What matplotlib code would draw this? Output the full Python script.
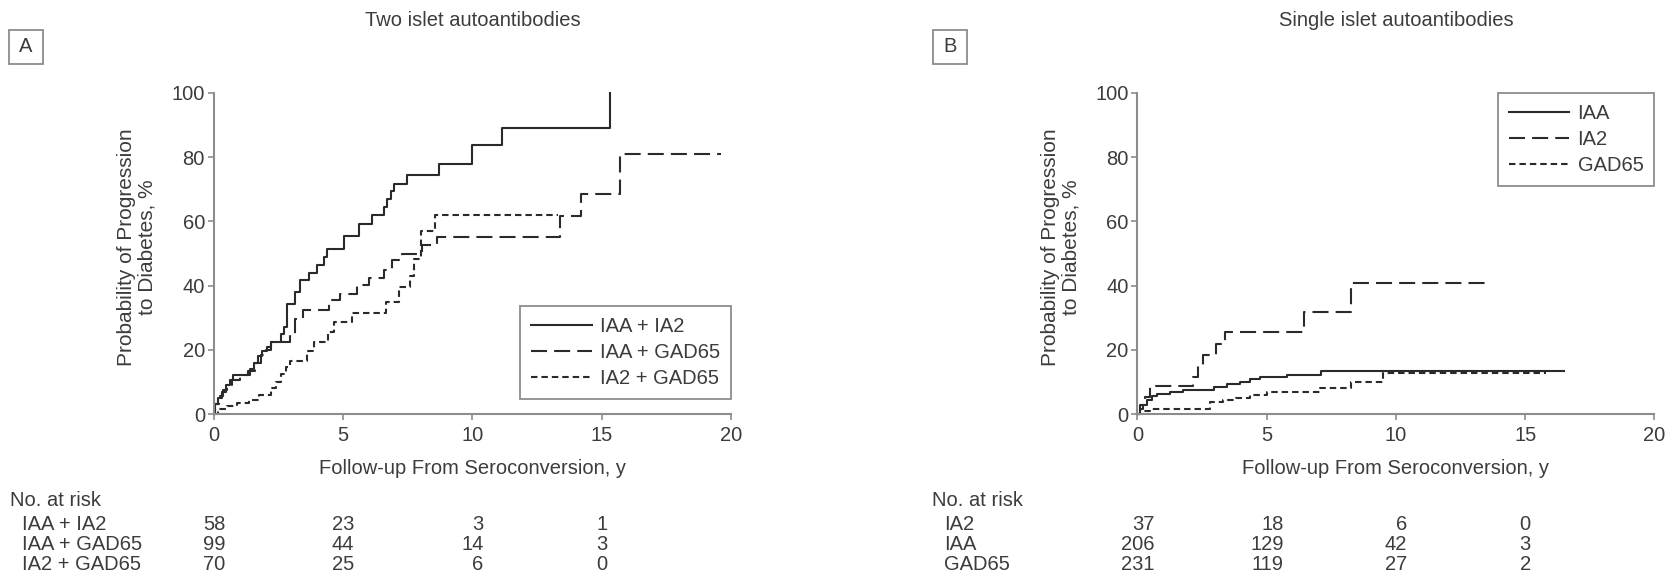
import matplotlib.pyplot as plt
from matplotlib import transforms
from matplotlib.patches import Rectangle

plt.rcParams['font.family'] = ['Liberation Sans', 'DejaVu Sans']

# ---- Panel A: two islet autoantibodies (time in years, cumulative %)
iaa_ia2_t = [0, 0.05, 0.15, 0.3, 0.45, 0.6, 0.75, 1.4, 1.55, 1.7, 1.85, 2.05,
             2.2, 2.6, 2.7, 2.82, 3.14, 3.33, 3.66, 3.98, 4.24, 4.38, 5.01,
             5.6, 6.11, 6.56, 6.7, 6.85, 6.96, 7.47, 8.7, 9.98, 11.15, 15.32]
iaa_ia2_p = [0, 3, 5, 7, 9, 10.5, 12.3, 14, 16, 18, 19.5, 21,
             22.5, 25, 27, 34.3, 38, 41.9, 44, 46.3, 48.9, 51.5, 55.5,
             59.3, 61.9, 64.5, 67, 69.5, 71.7, 74.6, 77.9, 83.9, 89.1, 100]
iaa_ia2_end = 15.32

iaa_gad_t = [0, 0.05, 0.2, 0.35, 0.5, 0.7, 1.0, 1.3, 1.6, 1.8, 2.0, 2.2,
             2.95, 3.14, 3.46, 4.43, 4.88, 5.53, 5.98, 6.56, 6.88, 7.27,
             8.05, 8.63, 13.38, 14.18, 15.71]
iaa_gad_p = [0, 3, 5.5, 7.5, 9, 10.5, 12, 13.5, 16, 18.5, 20, 22.4,
             25, 29.7, 32.3, 35.4, 37.3, 40.1, 42.5, 45, 48, 50,
             52.6, 55.2, 61.7, 68.4, 81.1]
iaa_gad_end = 19.6

ia2_gad_t = [0, 0.15, 0.5, 0.9, 1.35, 1.75, 2.2, 2.4, 2.6, 2.8, 2.95, 3.6,
             3.85, 4.4, 4.65, 5.35, 6.65, 7.15, 7.6, 7.75, 8.0, 8.55]
ia2_gad_p = [0, 1.5, 2.5, 3.5, 4.5, 6, 8, 10, 12.5, 14.5, 16.5, 19.5,
             22.5, 25.5, 28.7, 31.5, 35, 39.5, 43, 48.3, 57, 61.9]
ia2_gad_end = 13.3

risk_times = [0, 5, 10, 15]
risk_a_labels = ['IAA + IA2', 'IAA + GAD65', 'IA2 + GAD65']
risk_a_counts = [[58, 23, 3, 1], [99, 44, 14, 3], [70, 25, 6, 0]]

# ---- Panel B: single islet autoantibodies
iaa_t = [0, 0.1, 0.2, 0.35, 0.55, 0.75, 1.25, 1.75, 2.95, 3.45, 3.95, 4.35,
         4.75, 5.8, 7.1]
iaa_p = [0, 1.5, 2.8, 4.3, 5.5, 6.2, 6.9, 7.4, 8.5, 9.2, 10.0, 10.8,
         11.5, 12.1, 13.4]
iaa_end = 16.5

ia2_t = [0, 0.1, 0.3, 0.5, 2.16, 2.35, 2.55, 3.05, 3.38, 6.43, 8.27]
ia2_p = [0, 2.7, 5.4, 8.6, 11.5, 15, 18.3, 21.9, 25.6, 31.9, 40.7]
ia2_end = 13.6

gad_t = [0, 0.2, 0.5, 2.8, 3.3, 3.8, 4.35, 5.0, 7.05, 8.27, 9.5]
gad_p = [0, 0.8, 1.5, 3.7, 4.3, 5.0, 6.0, 6.8, 8.2, 10.0, 12.8]
gad_end = 15.8

risk_b_labels = ['IA2', 'IAA', 'GAD65']
risk_b_counts = [[37, 18, 6, 0], [206, 129, 42, 3], [231, 119, 27, 2]]

# ---- styling
W, H = 1681, 581
TXT = '#3c3c3c'
LINE = '#2a2a2a'
SPINE = '#8c8c8c'
FS = 14.5
SOLID = '-'
LONG = (0, (7.7, 3.4))
SHORT = (0, (3.1, 1.9))

fig = plt.figure(figsize=(W / 100, H / 100), dpi=100)


def fx(x):
    return x / W


def fy(y):
    return 1 - y / H


def km(ax, t, p, end, ls, label):
    t = list(t)
    p = list(p)
    if end > t[-1]:
        t.append(end)
        p.append(p[-1])
    ax.step(t, p, where='post', color=LINE, lw=1.5, ls=ls, label=label,
            clip_on=False)


def panel(left, title, letter, letter_x, curves, risk_labels, risk_counts,
          leg_loc, leg_anchor, label_x):
    ax = fig.add_axes([fx(left), fy(414), fx(517), (414 - 93) / H])
    for t, p, end, ls, label in curves:
        km(ax, t, p, end, ls, label)

    ax.set_xlim(0, 20)
    ax.set_ylim(0, 100)
    ax.set_xticks([0, 5, 10, 15, 20])
    ax.set_yticks([0, 20, 40, 60, 80, 100])
    for s in ['top', 'right']:
        ax.spines[s].set_visible(False)
    for s in ['left', 'bottom']:
        ax.spines[s].set_color(SPINE)
        ax.spines[s].set_linewidth(1.5)
    ax.tick_params(direction='out', length=4.5, width=1.2, color=SPINE,
                   labelcolor=TXT, labelsize=FS, pad=2)
    ax.tick_params(axis='x', pad=4)

    ax.set_xlabel('Follow-up From Seroconversion, y', fontsize=FS, color=TXT,
                  va='center')
    ax.xaxis.set_label_coords(0.5, -(469 - 414) / 321)
    ax.set_ylabel('Probability of Progression\nto Diabetes, %', fontsize=15,
                  color=TXT, va='center', linespacing=1.1)
    ax.yaxis.set_label_coords(-77 / 517, 0.52)

    leg = ax.legend(loc=leg_loc, bbox_to_anchor=leg_anchor, borderaxespad=0,
                    fontsize=FS, handlelength=3.0, handletextpad=0.4,
                    labelspacing=0.35, borderpad=0.55, fancybox=False,
                    framealpha=1, labelcolor=TXT)
    leg.get_frame().set_edgecolor(SPINE)
    leg.get_frame().set_linewidth(1.3)

    # panel title and boxed letter
    fig.text(fx(left + 517 / 2), fy(21), title, ha='center', va='center',
             fontsize=FS, color=TXT)
    fig.add_artist(Rectangle((fx(letter_x - 17), fy(64)), 34 / W, 34 / H,
                             transform=fig.transFigure, fill=False,
                             edgecolor=SPINE, lw=1.3))
    fig.text(fx(letter_x), fy(47), letter, ha='center', va='center',
             fontsize=FS, color=TXT)

    # numbers at risk under the axis
    fig.text(fx(label_x), fy(500), 'No. at risk', ha='left', va='center',
             fontsize=FS, color=TXT)
    blend = transforms.blended_transform_factory(ax.transData, fig.transFigure)
    digit_pt = 0.556 * FS
    for j, tm in enumerate(risk_times):
        ndig = max(len(str(row[j])) for row in risk_counts)
        tr = transforms.offset_copy(blend, fig=fig, x=ndig * digit_pt / 2,
                                    units='points')
        for i, row in enumerate(risk_counts):
            fig.text(tm, fy(524 + 20 * i), str(row[j]), transform=tr,
                     ha='right', va='center', fontsize=FS, color=TXT)
    for i, name in enumerate(risk_labels):
        fig.text(fx(label_x + 12), fy(524 + 20 * i), name, ha='left',
                 va='center', fontsize=FS, color=TXT)
    return ax


panel(214, 'Two islet autoantibodies', 'A', 26,
      [(iaa_ia2_t, iaa_ia2_p, iaa_ia2_end, SOLID, 'IAA + IA2'),
       (iaa_gad_t, iaa_gad_p, iaa_gad_end, LONG, 'IAA + GAD65'),
       (ia2_gad_t, ia2_gad_p, ia2_gad_end, SHORT, 'IA2 + GAD65')],
      risk_a_labels, risk_a_counts, 'lower right', (1.0, 15 / 321), 10)

panel(1137.5, 'Single islet autoantibodies', 'B', 950,
      [(iaa_t, iaa_p, iaa_end, SOLID, 'IAA'),
       (ia2_t, ia2_p, ia2_end, LONG, 'IA2'),
       (gad_t, gad_p, gad_end, SHORT, 'GAD65')],
      risk_b_labels, risk_b_counts, 'upper right', (1.0, 1.0), 932)

fig.savefig('out.png', dpi=100)
